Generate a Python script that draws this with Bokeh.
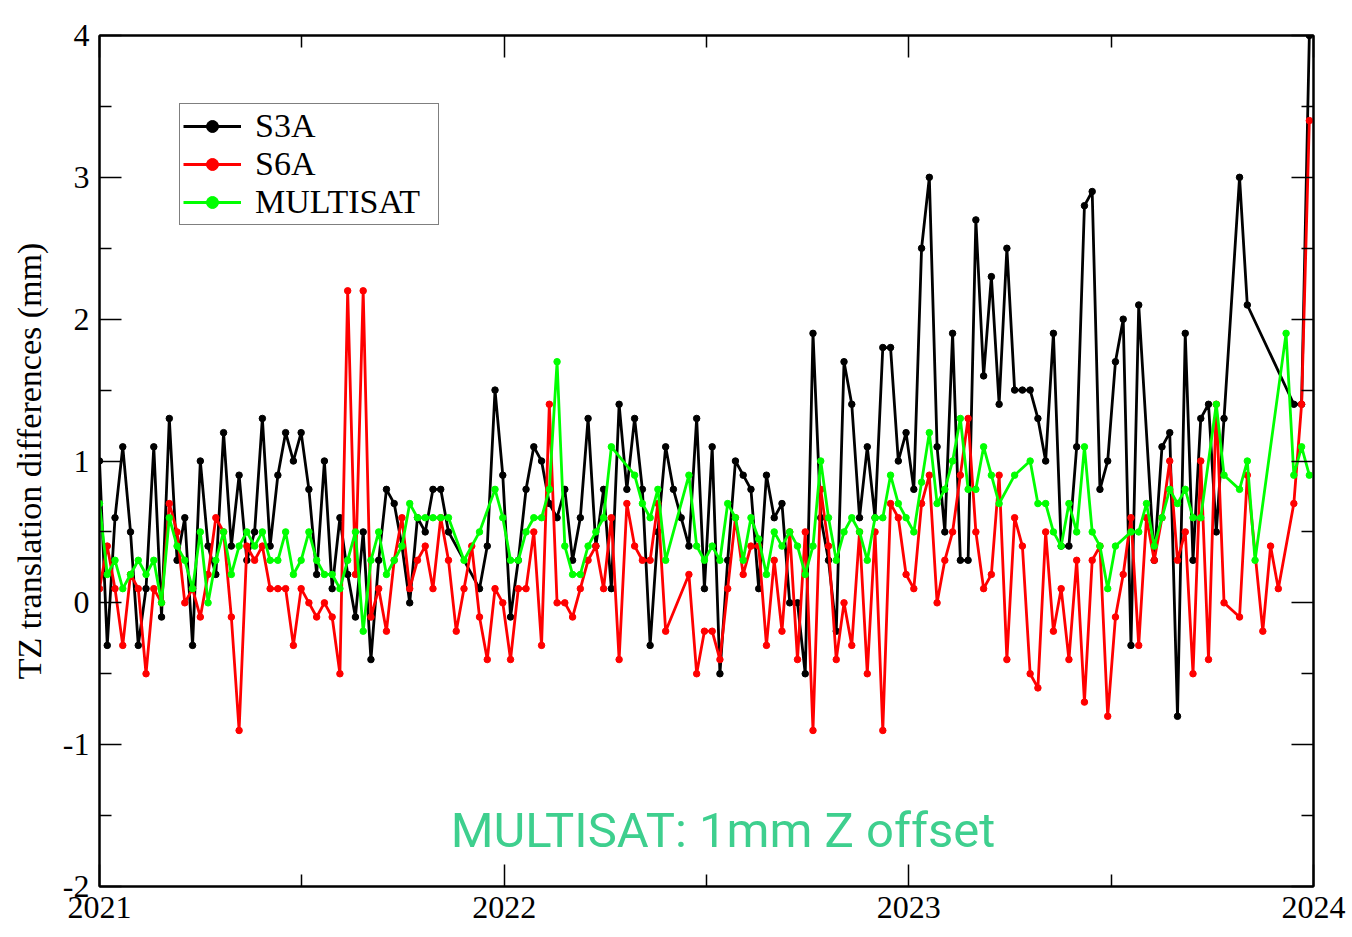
from bokeh.plotting import figure
from bokeh.models import (LinearAxis, FixedTicker, Legend, LegendItem, Label,
                          Range1d, ColumnDataSource)
from bokeh.embed import file_html
from bokeh.resources import INLINE

# ---------------- data (week index since 2021-01-01, value in mm) ----------------
s3a_week = [0, 1, 2, 3, 4, 5, 6, 7, 8, 9, 10, 11, 12, 13, 14, 15, 16, 17, 18, 19,
            20, 21, 22, 23, 24, 25, 26, 27, 28, 29, 30, 31, 32, 33, 34, 35, 36, 37, 38, 39,
            40, 41, 42, 43, 44, 45, 49, 50, 51, 52, 53, 54, 55, 56, 57, 58, 59,
            60, 61, 62, 63, 64, 65, 66, 67, 68, 69, 70, 71, 72, 73, 74, 75, 76, 77, 78, 79,
            80, 81, 82, 83, 84, 85, 86, 87, 88, 89, 90, 91, 92, 93, 94, 95, 96, 97, 98, 99,
            100, 101, 102, 103, 104, 105, 106, 107, 108, 109, 110, 111, 112, 113, 114, 115,
            116, 117, 118, 119, 120, 121, 122, 123, 124, 125, 126, 127, 128, 129, 130, 131,
            132, 133, 134, 136, 137, 138, 139, 140, 141, 142, 143, 144, 145, 147, 148,
            154, 155, 156]
s3a_val = [1.0, -0.3, 0.6, 1.1, 0.5, -0.3, 0.1, 1.1, -0.1, 1.3, 0.3, 0.6, -0.3, 1.0, 0.4, 0.2, 1.2, 0.4, 0.9, 0.3,
           0.5, 1.3, 0.4, 0.9, 1.2, 1.0, 1.2, 0.8, 0.2, 1.0, 0.1, 0.6, 0.2, -0.1, 0.5, -0.4, 0.3, 0.8, 0.7, 0.4,
           0.0, 0.6, 0.5, 0.8, 0.8, 0.5, 0.1, 0.4, 1.5, 0.9, -0.1, 0.3, 0.8, 1.1, 1.0, 0.7, 0.6,
           0.8, 0.3, 0.6, 1.3, 0.4, 0.8, 0.1, 1.4, 0.8, 1.3, 0.8, -0.3, 0.5, 1.1, 0.8, 0.6, 0.4, 1.3, 0.1, 1.1,
           -0.5, 0.3, 1.0, 0.9, 0.8, 0.1, 0.9, 0.6, 0.7, 0.0, 0.0, -0.5, 1.9, 0.6, 0.3, -0.2, 1.7, 1.4, 0.6, 1.1,
           0.6, 1.8, 1.8, 1.0, 1.2, 0.8, 2.5, 3.0, 1.1, 0.5, 1.9, 0.3, 0.3, 2.7, 1.6, 2.3,
           1.4, 2.5, 1.5, 1.5, 1.5, 1.3, 1.0, 1.9, 0.4, 0.4, 1.1, 2.8, 2.9, 0.8, 1.0, 1.7,
           2.0, -0.3, 2.1, 0.3, 1.1, 1.2, -0.8, 1.9, 0.3, 1.3, 1.4, 0.5, 1.3, 3.0, 2.1,
           1.4, 1.4, 4.0]

s6a_week = [0, 1, 2, 3, 4, 5, 6, 7, 8, 9, 10, 11, 12, 13, 14, 15, 16, 17, 18, 19,
            20, 21, 22, 23, 24, 25, 26, 27, 28, 29, 30, 31, 32, 33, 34, 35, 36, 37, 38, 39,
            40, 41, 42, 43, 44, 45, 46, 47, 48, 49, 50, 51, 52, 53, 54, 55, 56, 57, 58, 59,
            60, 61, 62, 63, 64, 65, 66, 67, 68, 69, 70, 71, 72, 73, 76, 77, 78, 79,
            80, 81, 82, 83, 84, 85, 86, 87, 88, 89, 90, 91, 92, 93, 94, 95, 96, 97, 98, 99,
            100, 101, 102, 103, 104, 105, 106, 107, 108, 109, 110, 111, 112, 113, 114, 115,
            116, 117, 118, 119, 120, 121, 122, 123, 124, 125, 126, 127, 128, 129, 130, 131,
            132, 133, 134, 135, 136, 137, 138, 139, 140, 141, 142, 143, 144, 145, 147, 148,
            150, 151, 152, 154, 155, 156]
s6a_val = [0.1, 0.4, 0.1, -0.3, 0.2, 0.1, -0.5, 0.1, 0.0, 0.7, 0.5, 0.0, 0.1, -0.1, 0.2, 0.6, 0.5, -0.1, -0.9, 0.4,
           0.3, 0.4, 0.1, 0.1, 0.1, -0.3, 0.1, 0.0, -0.1, 0.0, -0.1, -0.5, 2.2, 0.2, 2.2, -0.1, 0.1, -0.2, 0.3, 0.6,
           0.1, 0.3, 0.4, 0.1, 0.6, 0.3, -0.2, 0.1, 0.4, -0.1, -0.4, 0.1, 0.0, -0.4, 0.1, 0.1, 0.5, -0.3, 1.4, 0.0,
           0.0, -0.1, 0.1, 0.3, 0.4, 0.1, 0.6, -0.4, 0.7, 0.4, 0.3, 0.3, 0.7, -0.2, 0.2, -0.5, -0.2, -0.2,
           -0.4, 0.1, 0.6, 0.2, 0.4, 0.4, -0.3, 0.3, -0.2, 0.5, -0.4, 0.5, -0.9, 0.8, 0.4, -0.4, 0.0, -0.3, 0.5, -0.5,
           0.5, -0.9, 0.7, 0.6, 0.2, 0.1, 0.7, 0.9, 0.0, 0.3, 0.5, 0.9, 1.3, 0.5, 0.1, 0.2,
           0.9, -0.4, 0.6, 0.4, -0.5, -0.6, 0.5, -0.2, 0.1, -0.4, 0.3, -0.7, 0.3, 0.4, -0.8, -0.1,
           0.2, 0.6, -0.3, 0.6, 0.3, 0.6, 1.0, 0.3, 0.5, -0.5, 1.0, -0.4, 1.4, 0.0, -0.1, 0.9,
           -0.2, 0.4, 0.1, 0.7, 1.4, 3.4]

multi_week = [0, 1, 2, 3, 4, 5, 6, 7, 8, 9, 10, 11, 12, 13, 14, 15, 16, 17, 18, 19,
              20, 21, 22, 23, 24, 25, 26, 27, 28, 29, 30, 31, 32, 33, 34, 35, 36, 37, 38, 39,
              40, 41, 42, 43, 44, 45, 47, 49, 51, 52, 53, 54, 55, 56, 57, 58, 59,
              60, 61, 62, 63, 64, 65, 66, 69, 70, 71, 72, 73, 76, 77, 78, 79,
              80, 81, 82, 83, 84, 85, 86, 87, 88, 89, 90, 91, 92, 93, 94, 95, 96, 97, 98, 99,
              100, 101, 102, 103, 104, 105, 106, 107, 108, 109, 110, 111, 112, 113, 114, 115,
              116, 118, 120, 121, 122, 123, 124, 125, 126, 127, 128, 129, 130, 131,
              133, 134, 135, 136, 137, 138, 139, 140, 141, 142, 144, 145, 147, 148, 149,
              153, 154, 155, 156]
multi_val = [0.7, 0.2, 0.3, 0.1, 0.2, 0.3, 0.2, 0.3, 0.0, 0.6, 0.4, 0.3, 0.1, 0.5, 0.0, 0.3, 0.5, 0.2, 0.4, 0.5,
             0.4, 0.5, 0.3, 0.3, 0.5, 0.2, 0.3, 0.5, 0.3, 0.2, 0.2, 0.1, 0.3, 0.5, -0.2, 0.3, 0.5, 0.2, 0.3, 0.4,
             0.7, 0.6, 0.6, 0.6, 0.6, 0.6, 0.3, 0.5, 0.8, 0.6, 0.3, 0.3, 0.5, 0.6, 0.6, 0.8, 1.7,
             0.4, 0.2, 0.2, 0.4, 0.5, 0.6, 1.1, 0.9, 0.7, 0.6, 0.8, 0.3, 0.9, 0.4, 0.3, 0.4,
             0.3, 0.7, 0.6, 0.3, 0.6, 0.45, 0.2, 0.5, 0.4, 0.5, 0.4, 0.2, 0.4, 1.0, 0.6, 0.3, 0.5, 0.6, 0.5, 0.3,
             0.6, 0.6, 0.9, 0.7, 0.6, 0.5, 0.85, 1.2, 0.7, 0.8, 1.0, 1.3, 0.8, 0.8, 1.1, 0.9,
             0.7, 0.9, 1.0, 0.7, 0.7, 0.5, 0.4, 0.7, 0.5, 1.1, 0.5, 0.4, 0.1, 0.4,
             0.5, 0.5, 0.7, 0.4, 0.6, 0.8, 0.7, 0.8, 0.6, 0.6, 1.4, 0.9, 0.8, 1.0, 0.3,
             1.9, 0.9, 1.1, 0.9]

series_names = ["S3A", "S6A", "MULTISAT"]
series_colors = ["#000000", "#ff0000", "#00ff00"]

x_major = [2021, 2022, 2023, 2024]
x_minor = [2021.5, 2022.5, 2023.5]
y_major = [-2, -1, 0, 1, 2, 3, 4]
y_minor = [-1.5, -0.5, 0.5, 1.5, 2.5, 3.5]
y_tick_text = {t: str(t) for t in y_major}  # plain hyphen minus, as in the reference

annotation_text = "MULTISAT: 1mm Z offset"


def to_year(weeks):
    return [2021 + w * 7 / 365.25 for w in weeks]


SERIF = "Liberation Serif"

p = figure(width=1352, height=937, output_backend="svg", toolbar_location=None,
           x_range=Range1d(2021, 2024), y_range=Range1d(-2, 4),
           min_border_left=99, min_border_right=39, min_border_top=35, min_border_bottom=51,
           background_fill_color="white", border_fill_color="white")
p.grid.visible = False
p.outline_line_color = "black"
p.outline_line_width = 2

items = []
for name, col, wk, vals in zip(series_names, series_colors,
                               [s3a_week, s6a_week, multi_week],
                               [s3a_val, s6a_val, multi_val]):
    src = ColumnDataSource(dict(x=to_year(wk), y=vals))
    ln = p.line("x", "y", source=src, line_color=col, line_width=2.8)
    sc = p.scatter("x", "y", source=src, size=6.5, fill_color=col, line_color=col)
    items.append(LegendItem(label=name, renderers=[ln, sc]))


def style_axis(ax, ticks, minors, show_labels=True):
    ax.ticker = FixedTicker(ticks=ticks, minor_ticks=minors)
    ax.major_tick_in = 22
    ax.major_tick_out = 0
    ax.minor_tick_in = 12
    ax.minor_tick_out = 0
    ax.axis_line_color = "black"
    ax.axis_line_width = 2
    ax.major_tick_line_color = "black"
    ax.major_tick_line_width = 1.5
    ax.minor_tick_line_color = "black"
    ax.minor_tick_line_width = 1.5
    ax.major_label_text_font = SERIF
    if show_labels:
        ax.major_label_text_color = "black"
        ax.major_label_text_font_size = "32px"
        ax.major_label_standoff = 10
    else:
        ax.major_label_text_color = None
        ax.major_label_text_font_size = "0px"
        ax.major_label_standoff = 0


style_axis(p.xaxis[0], x_major, x_minor)
style_axis(p.yaxis[0], y_major, y_minor)
p.yaxis[0].major_label_overrides = y_tick_text
p.yaxis[0].axis_label = "TZ translation differences (mm)"
p.yaxis[0].axis_label_text_font = SERIF
p.yaxis[0].axis_label_text_font_size = "34px"
p.yaxis[0].axis_label_text_font_style = "normal"
p.yaxis[0].axis_label_text_color = "black"
p.yaxis[0].axis_label_standoff = 12

top_ax = LinearAxis()
style_axis(top_ax, x_major, x_minor, show_labels=False)
p.add_layout(top_ax, "above")
right_ax = LinearAxis()
style_axis(right_ax, y_major, y_minor, show_labels=False)
p.add_layout(right_ax, "right")

legend = Legend(items=items, location=(80, 661), margin=0, padding=3, spacing=0,
                glyph_width=58, glyph_height=30, label_standoff=14, label_width=180,
                label_text_font=SERIF, label_text_font_size="34px", label_text_color="black",
                border_line_color="black", border_line_width=1.5,
                background_fill_color="white", background_fill_alpha=1.0)
p.add_layout(legend)

note = Label(x=2021.868, y=-1.605, text=annotation_text, text_font="Roboto",
             text_font_size="49px", text_color="#3ecf8e", text_baseline="alphabetic")
p.add_layout(note)

open("out.html", "w").write(file_html(p, INLINE))
